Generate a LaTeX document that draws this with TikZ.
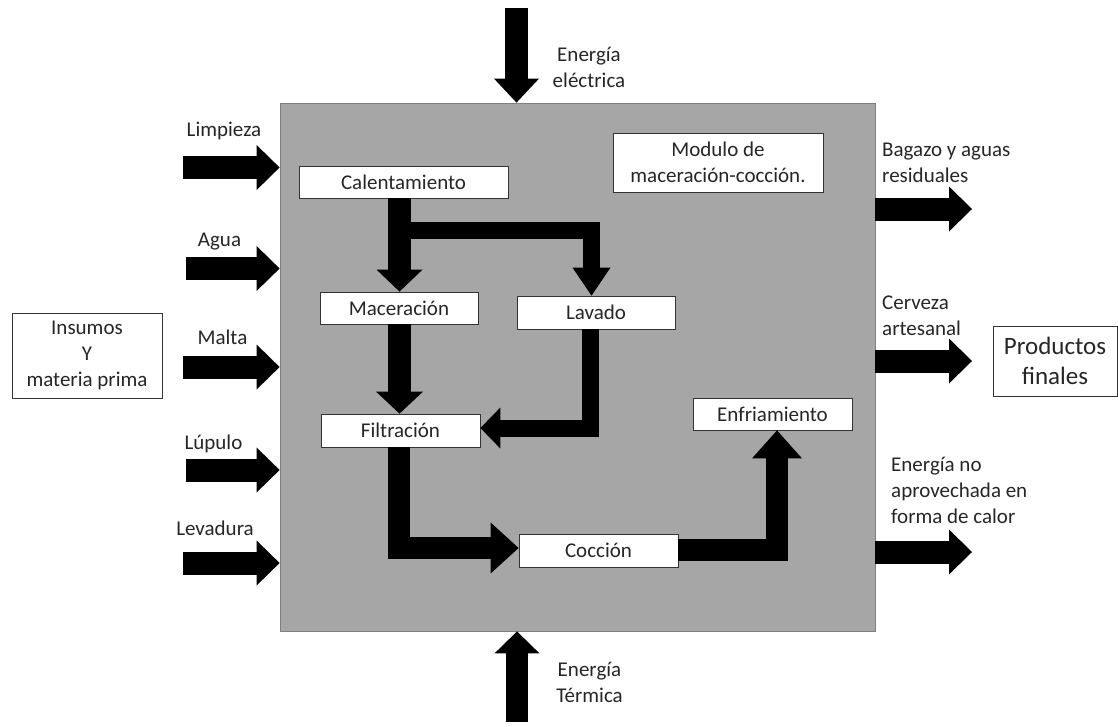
\documentclass[tikz,border=0pt]{standalone}
\usepackage{fontspec}
\setmainfont{Carlito}
\usetikzlibrary{arrows.meta}
\definecolor{boxgray}{HTML}{A6A6A6}
\definecolor{edgegray}{HTML}{7F7F7F}
\definecolor{txt}{HTML}{262626}
\tikzset{
  every node/.style={font=\fontsize{21}{26}\selectfont, text=txt},
  sysbox/.style={fill=boxgray, draw=edgegray, line width=0.8pt, minimum width=595pt, minimum height=528pt, inner sep=0pt},
  procbox/.style={fill=white, draw=black!80, line width=0.8pt, inner sep=0pt, align=center},
  lbl/.style={inner sep=0pt, align=center},
  lbll/.style={inner sep=0pt, align=left, anchor=west},
  blk/.style n args={3}{draw=black, line width=#1, line join=miter,
     -{Triangle[length=#2, width=#3, line width=0pt]}},
}
\begin{document}
\begin{tikzpicture}[x=1pt, y=-1pt]
\useasboundingbox (0,0) rectangle (1118,726);

% main module
\node[sysbox] (sys) at (577.5,367) {};

% process boxes
\node[procbox, minimum width=209pt, minimum height=32pt] (cal) at (403.5,182) {Calentamiento};
\node[procbox, minimum width=158pt, minimum height=32pt] (mac) at (399,308) {Maceración};
\node[procbox, minimum width=158pt, minimum height=33pt] (lav) at (596,312.5) {Lavado};
\node[procbox, minimum width=159pt, minimum height=33pt] (fil) at (400.5,430.5) {Filtración};
\node[procbox, minimum width=159pt, minimum height=33pt] (coc) at (598.5,550.5) {Cocción};
\node[procbox, minimum width=159pt, minimum height=32pt] (enf) at (772.5,414) {Enfriamiento};
\node[procbox, minimum width=210pt, minimum height=59pt] (modu) at (718,162.5) {Modulo de\\maceración-cocción.};

% outside boxes
\node[procbox, minimum width=150pt, minimum height=85pt] (ins) at (87,355.5) {Insumos\\Y\\materia prima};
\node[procbox, minimum width=124pt, minimum height=70pt, font=\fontsize{25}{30}\selectfont] (prod) at (1055,361) {Productos\\finales};

% internal flow
\draw[blk={23pt}{22pt}{46pt}] (399.5,0 |- cal.south) -- (399.5,0 |- mac.north);
\draw[blk={17pt}{28pt}{38pt}] (399.5,230.5) -- (591.5,230.5) -- (591.5,0 |- lav.north);
\draw[blk={23pt}{22pt}{47pt}] (399.5,0 |- mac.south) -- (399.5,0 |- fil.north);
\draw[blk={17pt}{20pt}{41pt}] (590,0 |- lav.south) -- (590,428) -- (fil.east |- 0,428);
\draw[blk={22pt}{28pt}{51pt}] (399,0 |- fil.south) -- (399,548) -- (coc.west |- 0,548);
\draw[blk={22pt}{28pt}{50pt}] (coc.east |- 0,550) -- (777,550) -- (777,0 |- enf.south);

% inputs (left)
\coordinate (limS) at (183,167.5);
\coordinate (aguS) at (186,268.5);
\coordinate (malS) at (183,367);
\coordinate (lupS) at (186,470);
\coordinate (levS) at (183,563);
\foreach \s in {limS,aguS,malS,lupS,levS}
  \draw[blk={23pt}{23pt}{45pt}] (\s) -- (sys.west |- \s);

% energy in
\coordinate (eeS) at (516.5,8);
\coordinate (etS) at (517,722);
\draw[blk={23pt}{24pt}{45pt}] (eeS) -- (sys.north -| eeS);
\draw[blk={22pt}{22pt}{45pt}] (etS) -- (sys.south -| etS);

% outputs (right)
\coordinate (bagE) at (972,209);
\coordinate (cerE) at (972,361);
\coordinate (eneE) at (972,552);
\foreach \e in {bagE,cerE,eneE}
  \draw[blk={23pt}{23pt}{45pt}] (sys.east |- \e) -- (\e);

% labels
\node[lbl] (lEE) at (589,67.5) {Energía\\eléctrica};
\node[lbl] (lET) at (589.5,682.5) {Energía\\Térmica};
\node[lbl] (lLim) at (224,131) {Limpieza};
\node[lbl] (lAgu) at (219.5,242) {Agua};
\node[lbl] (lMal) at (222.5,337) {Malta};
\node[lbl] (lLup) at (213.5,444) {Lúpulo};
\node[lbl] (lLev) at (215,528) {Levadura};
\node[lbll] (lBag) at (882,163) {Bagazo y aguas\\residuales};
\node[lbll] (lCer) at (882,315.5) {Cerveza\\artesanal};
\node[lbll] (lEne) at (891,490.5) {Energía no\\aprovechada en\\forma de calor};
\end{tikzpicture}
\end{document}
